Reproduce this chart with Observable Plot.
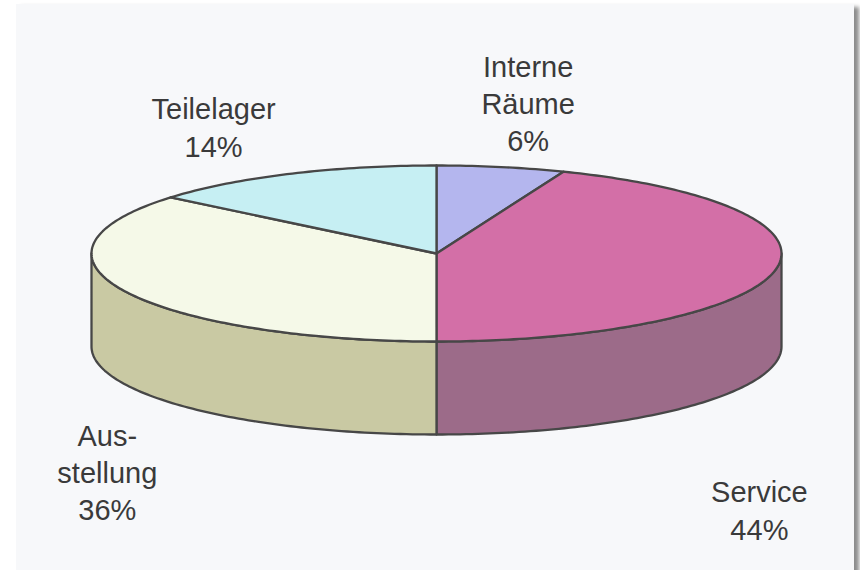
<!DOCTYPE html>
<html>
<head>
<meta charset="utf-8">
<script src="https://cdn.jsdelivr.net/npm/d3@7"></script>
<script src="https://cdn.jsdelivr.net/npm/@observablehq/plot@0.6"></script>
<style>
  html, body { margin: 0; padding: 0; background: #ffffff; width: 860px; height: 570px; overflow: hidden; }
  #panel { position: absolute; left: 16px; top: 4px; width: 838px; height: 580px; background: #f7f8fa;
           box-shadow: 5px 3px 4px rgba(0,0,0,0.45); }
  #chart { position: absolute; left: 0; top: 0; }
</style>
</head>
<body>
<div id="panel"></div>
<div id="chart"></div>
<script>
// ---- data ----
const categories = ["Interne Räume", "Service", "Ausstellung", "Teilelager"];
const labelTexts = ["Interne\nRäume", "Service", "Aus-\nstellung", "Teilelager"];
const shares = [6, 44, 36, 14];

// ---- styles ----
const topColors  = ["#b4b6ee", "#d36fa7", "#f5f9e8", "#c6eff3"];
const sideColors = ["#8a8cc0", "#9c6b89", "#c9c9a3", "#98c2c6"];
const labelOffsets = [[27, -65], [-16, 239], [-17, 180], [-76, -48]];
const outline = "#474747";

// projection of the disc: tilt (ry/rx) and thickness (depth/rx)
const T = 88 / 345, D = 93 / 345;

const slices = d3.pie().sort(null).startAngle(0).endAngle(2 * Math.PI)(shares)
  .map((p, i) => ({...p, i, name: categories[i]}));

function arcPts(a0, a1, yOff) {
  const n = Math.max(2, Math.ceil((a1 - a0) / (Math.PI / 180)));
  return d3.range(n + 1).map(k => {
    const a = a0 + (a1 - a0) * k / n;
    return {x: Math.sin(a), y: Math.cos(a) * T + yOff};
  });
}

const marks = [];
// side walls (front half only)
for (const s of slices) {
  const s0 = Math.max(s.startAngle, Math.PI / 2), s1 = Math.min(s.endAngle, 3 * Math.PI / 2);
  if (s1 > s0) {
    const top = arcPts(s0, s1, 0), bot = arcPts(s0, s1, -D).reverse();
    const pts = [...top, ...bot, top[0]];
    marks.push(Plot.line(pts, {x: "x", y: "y", fill: sideColors[s.i], stroke: outline, strokeWidth: 2.3, strokeLinejoin: "round"}));
  }
}
// top faces
for (const s of slices) {
  const pts = [{x: 0, y: 0}, ...arcPts(s.startAngle, s.endAngle, 0), {x: 0, y: 0}];
  marks.push(Plot.line(pts, {x: "x", y: "y", fill: topColors[s.i], stroke: outline, strokeWidth: 2.3, strokeLinejoin: "round"}));
}
// labels
for (const s of slices) {
  const mid = (s.startAngle + s.endAngle) / 2;
  const anchor = [{x: Math.sin(mid), y: Math.cos(mid) * T, t: labelTexts[s.i] + "\n" + shares[s.i] + "%"}];
  marks.push(Plot.text(anchor, {
    x: "x", y: "y", text: "t", dx: labelOffsets[s.i][0], dy: labelOffsets[s.i][1],
    fontSize: 29, lineHeight: 1.29, fill: "#3a3a3a", textAnchor: "middle", lineAnchor: "middle"
  }));
}

const chart = Plot.plot({
  width: 860, height: 570, margin: 0,
  x: {domain: [-1, 1], range: [91, 781], axis: null},
  y: {domain: [-1, 1], range: [598, -92], axis: null},
  style: {background: "transparent", fontFamily: "'Liberation Sans', Arial, sans-serif"},
  marks
});
document.getElementById("chart").appendChild(chart);
</script>
</body>
</html>
